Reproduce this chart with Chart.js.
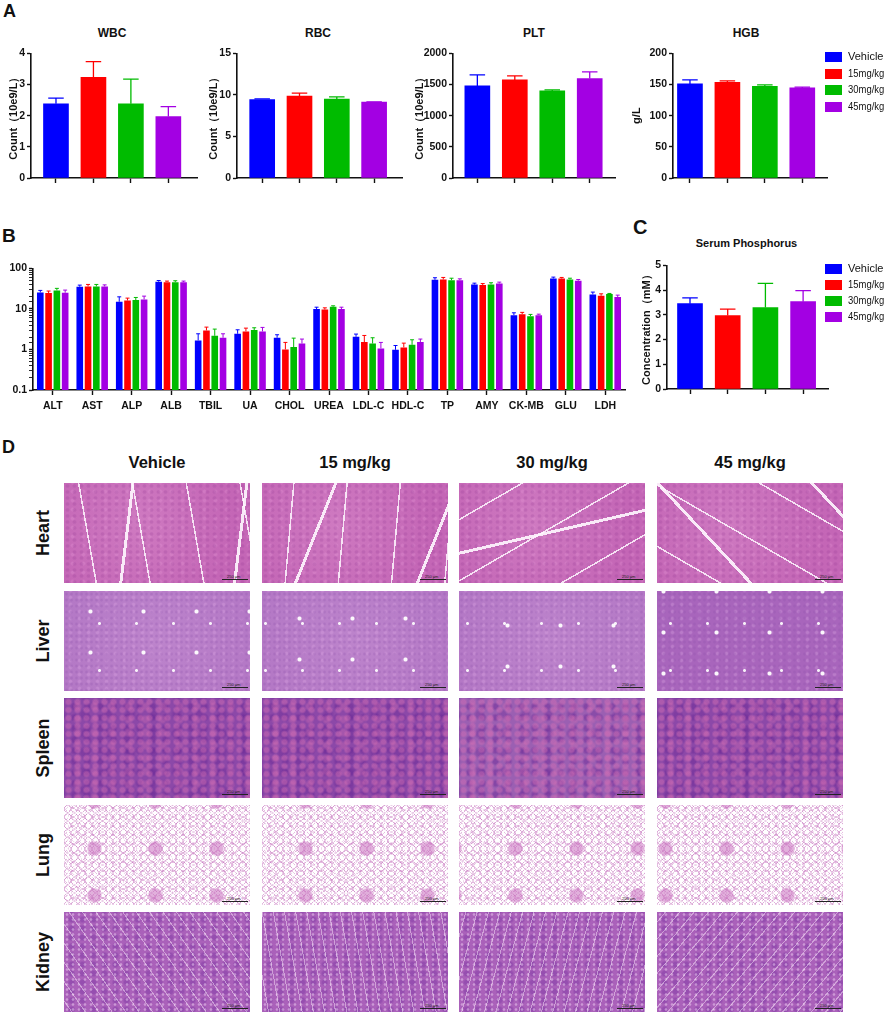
<!DOCTYPE html>
<html>
<head>
<meta charset="utf-8">
<script src="https://cdn.jsdelivr.net/npm/chart.js@4.4.0/dist/chart.umd.min.js"></script>
<style>
body{margin:0;background:#fff;width:886px;height:1013px;position:relative;overflow:hidden;font-family:"Liberation Sans",Arial,sans-serif;color:#111}
.t{position:absolute;white-space:nowrap;font-weight:bold;line-height:1}
.leg{position:absolute;font-size:11px;line-height:1;white-space:nowrap}
.leg i{position:absolute;left:0;width:17px;height:10px}
.leg span{position:absolute;left:23px;top:-1px;display:inline-block;transform-origin:0 50%}
.tis{position:absolute;width:186px;height:100px;overflow:hidden}
.sb{position:absolute;height:0;border-top:1px solid #222}
.sb b{position:absolute;left:5px;top:-6px;font-size:4px;font-weight:normal;color:#222}
</style>
</head>
<body>
<script>
// groups
const groups = ["Vehicle", "15mg/kg", "30mg/kg", "45mg/kg"];
const groupColors = ["#0000ff", "#ff0000", "#00bb00", "#a300e3"];

// panel A - mean and mean+SD
const wbcMean = [2.38, 3.23, 2.38, 1.97];
const wbcUpper = [2.56, 3.73, 3.17, 2.29];
const rbcMean = [9.44, 9.84, 9.48, 9.12];
const rbcUpper = [9.52, 10.2, 9.76, 9.16];
const pltMean = [1477, 1573, 1397, 1595];
const pltUpper = [1653, 1637, 1413, 1701];
const hgbMean = [150.9, 153.6, 147.2, 144.5];
const hgbUpper = [157.3, 155.7, 149.3, 145.6];

// panel B - serum biochemistry (log scale)
const bioMarkers = ["ALT", "AST", "ALP", "ALB", "TBIL", "UA", "CHOL", "UREA", "LDL-C", "HDL-C", "TP", "AMY", "CK-MB", "GLU", "LDH"];
const bioVehicle = [25.4, 35, 15, 46.5, 1.67, 2.43, 1.94, 9.86, 2.05, 0.98, 52, 40, 7.0, 56, 22.7];
const bioVehicleUp = [28.5, 38.5, 19.8, 50, 2.43, 3.05, 2.3, 11.0, 2.39, 1.25, 58.5, 43, 8.0, 60.6, 25.9];
const bio15 = [24.5, 35.7, 16.1, 45.6, 2.94, 2.78, 1.0, 9.6, 1.52, 1.12, 53, 38.5, 7.4, 56, 21];
const bio15Up = [27.5, 40, 18.4, 48.4, 3.55, 3.35, 1.49, 10.6, 2.21, 1.43, 59.5, 42, 8.2, 59.5, 23.5];
const bio30 = [28.5, 35.7, 16.5, 45.6, 2.17, 3.0, 1.14, 11.3, 1.4, 1.3, 51, 40, 6.6, 53, 23.1];
const bio30Up = [32, 40, 19.1, 49.3, 3.17, 3.42, 1.9, 11.9, 1.94, 1.73, 57, 44, 7.3, 57, 24];
const bio45 = [25, 35.7, 17.1, 45.6, 1.94, 2.78, 1.4, 9.86, 1.06, 1.52, 51, 42.3, 7.0, 49, 19.5];
const bio45Up = [29, 39, 20.6, 48.4, 2.43, 3.49, 1.8, 11, 1.49, 1.8, 55, 45.6, 7.4, 53, 21.8];

// panel C
const phosMean = [3.45, 2.97, 3.29, 3.53];
const phosUpper = [3.68, 3.23, 4.27, 3.98];

// panel D
const doseHeaders = ["Vehicle", "15 mg/kg", "30 mg/kg", "45 mg/kg"];
const organs = ["Heart", "Liver", "Spleen", "Lung", "Kidney"];

Chart.defaults.font.family = "'Liberation Sans', Arial, sans-serif";
Chart.defaults.color = "#111";
Chart.defaults.animation = false;
Chart.defaults.plugins.legend.display = false;
Chart.defaults.plugins.tooltip.enabled = false;

const tickFont = { size: 10.5, weight: "bold" };
const axisBorder = { display: true, color: "#111", width: 1.6 };
const tickGrid = { drawOnChartArea: false, drawTicks: true, tickLength: 4, color: "#111", tickColor: "#111", tickWidth: 1.4 };

// upper error bar (mean + SD) drawn from the bar top
const errorBars = {
  id: "errorBars",
  afterDatasetsDraw(chart, args, opts) {
    const ctx = chart.ctx;
    const y = chart.scales.y;
    chart.data.datasets.forEach((ds, i) => {
      chart.getDatasetMeta(i).data.forEach((bar, j) => {
        const col = Array.isArray(ds.backgroundColor) ? ds.backgroundColor[j] : ds.backgroundColor;
        const top = y.getPixelForValue(ds.upper[j]);
        const half = bar.width * opts.cap / 2;
        ctx.save();
        ctx.strokeStyle = col;
        ctx.lineWidth = opts.width;
        ctx.beginPath();
        ctx.moveTo(bar.x, bar.y);
        ctx.lineTo(bar.x, top);
        ctx.moveTo(bar.x - half, top);
        ctx.lineTo(bar.x + half, top);
        ctx.stroke();
        ctx.restore();
      });
    });
  }
};

// put a chart so that its plot area sits at g.left..g.right / g.top..g.bottom
function placeChart(g, config) {
  const div = document.createElement("div");
  div.style.cssText = "position:absolute;left:" + (g.left - g.yW) + "px;top:" + (g.top - g.padT) + "px;width:" +
    (g.right - g.left + g.yW + g.padR) + "px;height:" + (g.bottom - g.top + g.padT + g.xH) + "px";
  const cv = document.createElement("canvas");
  div.appendChild(cv);
  document.body.appendChild(div);
  config.options.responsive = true;
  config.options.maintainAspectRatio = false;
  config.options.layout = { autoPadding: false, padding: { top: g.padT, right: g.padR, left: 0, bottom: 0 } };
  config.options.scales.y.afterFit = s => { s.width = g.yW; };
  config.options.scales.x.afterFit = s => { s.height = g.xH; };
  config.plugins = [errorBars];
  return new Chart(cv, config);
}

function groupChart(g, yTitle, mean, upper, yMax, yStep) {
  return placeChart(g, {
    type: "bar",
    data: {
      datasets: [{
        data: mean.map((v, i) => ({ x: i, y: v })),
        upper: upper,
        backgroundColor: groupColors,
        borderWidth: 0,
        barThickness: 25
      }]
    },
    options: {
      plugins: { errorBars: { cap: 0.62, width: 1.3 } },
      scales: {
        x: {
          type: "linear", min: g.xMin, max: g.xMax, offset: false,
          grid: Object.assign({}, tickGrid, { offset: false, tickLength: 5 }),
          border: axisBorder,
          ticks: { stepSize: 1, includeBounds: false, callback: () => "" }
        },
        y: {
          min: 0, max: yMax,
          ticks: { stepSize: yStep, font: tickFont, padding: 2, callback: v => String(v) },
          grid: tickGrid,
          border: axisBorder,
          title: { display: true, text: yTitle, font: { size: 11, weight: "bold" }, padding: 0 }
        }
      }
    }
  });
}

const countLabel = "Count\uFF0810e9/L\uFF09";
groupChart({ left: 31, right: 197, top: 53, bottom: 178, yW: 24, xH: 10, padT: 8, padR: 4, xMin: -0.667, xMax: 3.765 }, countLabel, wbcMean, wbcUpper, 4, 1);
groupChart({ left: 237, right: 402, top: 53, bottom: 178, yW: 30, xH: 10, padT: 8, padR: 4, xMin: -0.675, xMax: 3.747 }, countLabel, rbcMean, rbcUpper, 15, 5);
groupChart({ left: 453, right: 615, top: 53, bottom: 178, yW: 40, xH: 10, padT: 8, padR: 4, xMin: -0.65, xMax: 3.675 }, countLabel, pltMean, pltUpper, 2000, 500);
groupChart({ left: 673, right: 827, top: 53, bottom: 178, yW: 43, xH: 10, padT: 8, padR: 4, xMin: -0.453, xMax: 3.66 }, "g/L", hgbMean, hgbUpper, 200, 50);

// panel B
const isDecade = v => Math.abs(Math.log10(v) - Math.round(Math.log10(v))) < 1e-6;
const bioSeries = [[bio15, bio15Up], [bio30, bio30Up], [bio45, bio45Up]];
placeChart({ left: 33, right: 625, top: 268, bottom: 390, yW: 33, xH: 30, padT: 8, padR: 4 }, {
  type: "bar",
  data: {
    labels: bioMarkers,
    datasets: [[bioVehicle, bioVehicleUp]].concat(bioSeries).map((s, k) => ({
      label: groups[k], data: s[0], upper: s[1], backgroundColor: groupColors[k], borderWidth: 0,
      categoryPercentage: 0.84, barPercentage: 0.8
    }))
  },
  options: {
    plugins: { errorBars: { cap: 0.6, width: 1 } },
    scales: {
      x: {
        grid: Object.assign({}, tickGrid, { offset: false, tickLength: 5 }),
        border: axisBorder,
        ticks: { font: tickFont, padding: 5, autoSkip: false, maxRotation: 0 }
      },
      y: {
        type: "logarithmic", min: 0.1, max: 100,
        ticks: { autoSkip: false, font: tickFont, padding: 2,
          callback: v => isDecade(v) ? (v < 1 ? v.toFixed(1) : v.toFixed(0)) : "" },
        grid: Object.assign({}, tickGrid, { tickWidth: c => (c.tick && isDecade(c.tick.value)) ? 1.4 : 0.9 }),
        border: axisBorder
      }
    }
  }
});

// panel C
groupChart({ left: 667, right: 828, top: 265, bottom: 389, yW: 27, xH: 10, padT: 8, padR: 4, xMin: -0.61, xMax: 3.66 },
  "Concentration\uFF08mM\uFF09", phosMean, phosUpper, 5, 1);

// ---- text ----
function txt(s, x, base, size, align, extra) {
  const d = document.createElement("div");
  d.className = "t";
  d.textContent = s;
  d.style.fontSize = size + "px";
  d.style.top = (base - 0.8465 * size) + "px";
  d.style.left = x + "px";
  if (align === "center") d.style.transform = "translateX(-50%)";
  if (extra) d.style.cssText += extra;
  document.body.appendChild(d);
  return d;
}
txt("A", 3, 17.5, 18);
txt("B", 2, 242, 19);
txt("C", 633, 234, 20);
txt("D", 2, 453, 18);

txt("WBC", 112, 37.5, 12, "center");
txt("RBC", 318, 37.5, 12, "center");
txt("PLT", 534, 37.5, 12, "center");
txt("HGB", 746, 37.5, 12, "center");
txt("Serum Phosphorus", 746.5, 247.5, 11, "center");

function legend(x, y0, step) {
  groups.forEach((g, k) => {
    const d = document.createElement("div");
    d.className = "leg";
    d.style.left = x + "px";
    d.style.top = (y0 + k * step - 5) + "px";
    const sq = document.createElement("i");
    sq.style.background = groupColors[k];
    const sp = document.createElement("span");
    sp.textContent = g;
    if (k > 0) sp.style.transform = "scaleX(0.86)";
    d.appendChild(sq);
    d.appendChild(sp);
    document.body.appendChild(d);
  });
}
legend(825, 57, 16.7);
legend(825, 269, 16);

// ---- panel D: histology tiles (decorative stand-ins) ----
const colX = [64, 262, 459, 657];
const rowY = [483, 591, 698, 805, 912];
doseHeaders.forEach((h, c) => txt(h, colX[c] + 93, 468, 16.5, "center"));
organs.forEach((o, r) => {
  const d = txt(o, 0, 0, 18);
  d.style.top = (rowY[r] + 50) + "px";
  d.style.left = "43px";
  d.style.transform = "translate(-50%,-50%) rotate(-90deg)";
});

function dots(rgba, r0, r1, w, h, ox, oy) {
  return "radial-gradient(circle, " + rgba + " 0 " + r0 + "px, rgba(0,0,0,0) " + r1 + "px) " + ox + "px " + oy + "px/" + w + "px " + h + "px";
}
function rings(rgba, r0, r1, w, h, ox, oy) {
  return "radial-gradient(circle, rgba(0,0,0,0) 0 " + r0 + "px, " + rgba + " " + (r0 + 0.4) + "px " + r1 + "px, rgba(0,0,0,0) " + (r1 + 0.5) + "px) " + ox + "px " + oy + "px/" + w + "px " + h + "px";
}
const streakAngles = [80, 95, 150, 30];
const tissueBg = {
  Heart: c => [
    "repeating-linear-gradient(" + streakAngles[c] + "deg, rgba(255,255,255,0) 0 31px, rgba(255,248,255,.85) 31px 32.5px, rgba(255,255,255,0) 32.5px 53px)",
    "repeating-linear-gradient(" + (streakAngles[c] + 17) + "deg, rgba(255,255,255,0) 0 67px, rgba(255,248,255,.9) 67px 70px, rgba(255,255,255,0) 70px 113px)",
    dots("rgba(150,60,150,.25)", 1, 2.5, 7, 6, 0, 0),
    dots("rgba(235,160,220,.25)", 1, 2.5, 11, 9, 3, 4),
    "radial-gradient(circle at 40% 40%, #cf7ac1, #c466b6 75%)"
  ].join(","),
  Liver: c => [
    dots("rgba(255,255,255,.95)", 1.4, 2.6, 53, 41, c * 11, c * 7),
    dots("rgba(255,255,255,.9)", 1, 2, 37, 47, 17 + c * 5, 9),
    dots("rgba(140,80,170,.25)", 0.8, 2, 5, 6, 0, 0),
    dots("rgba(225,170,230,.3)", 1, 2.5, 9, 7, 2, 3),
    c === 3 ? "#a865bc" : "radial-gradient(circle at 50% 50%, #bd84cc, #b377c5)"
  ].join(","),
  Spleen: c => [
    dots("rgba(214,112,180,.45)", 2, 4, 9, 8, 0, 0),
    dots("rgba(214,112,180,.35)", 2.5, 5, 17, 13, 5, 2),
    dots("rgba(105,40,150,.45)", 2, 4.5, 13, 11, 4, 3),
    dots("rgba(105,40,150,.35)", 3, 6, 23, 19, 9, 7),
    c === 2 ? "#9b5fb2" : "#8c48a8"
  ].join(","),
  Lung: c => [
    dots("rgba(200,110,190,.55)", 6, 8, 61, 47, c * 13, 20),
    rings("rgba(196,110,188,.55)", 2.8, 3.3, 7, 8, 0, 0),
    rings("rgba(196,110,188,.45)", 3.6, 4.1, 10, 9, 4, 3),
    rings("rgba(196,110,188,.35)", 4.4, 4.9, 13, 11, 6, 5),
    "#fff"
  ].join(","),
  Kidney: c => [
    "repeating-linear-gradient(" + (55 + c * 25) + "deg, rgba(255,240,255,0) 0 6px, rgba(255,240,255,.45) 6px 7px, rgba(255,240,255,0) 7px 11px)",
    dots("rgba(255,235,255,.4)", 0.8, 1.8, 6, 5, 0, 0),
    dots("rgba(120,50,160,.4)", 2, 4, 11, 9, 2, 3),
    "#aa61ba"
  ].join(",")
};
organs.forEach((o, r) => {
  colX.forEach((x, c) => {
    const d = document.createElement("div");
    d.className = "tis";
    d.style.left = x + "px";
    d.style.top = rowY[r] + "px";
    d.style.background = tissueBg[o](c);
    document.body.appendChild(d);
    const sb = document.createElement("div");
    sb.className = "sb";
    sb.style.left = (x + 158) + "px";
    sb.style.top = (rowY[r] + 96) + "px";
    sb.style.width = "26px";
    sb.innerHTML = "<b>250 \u03bcm</b>";
    document.body.appendChild(sb);
  });
});
</script>
</body>
</html>
